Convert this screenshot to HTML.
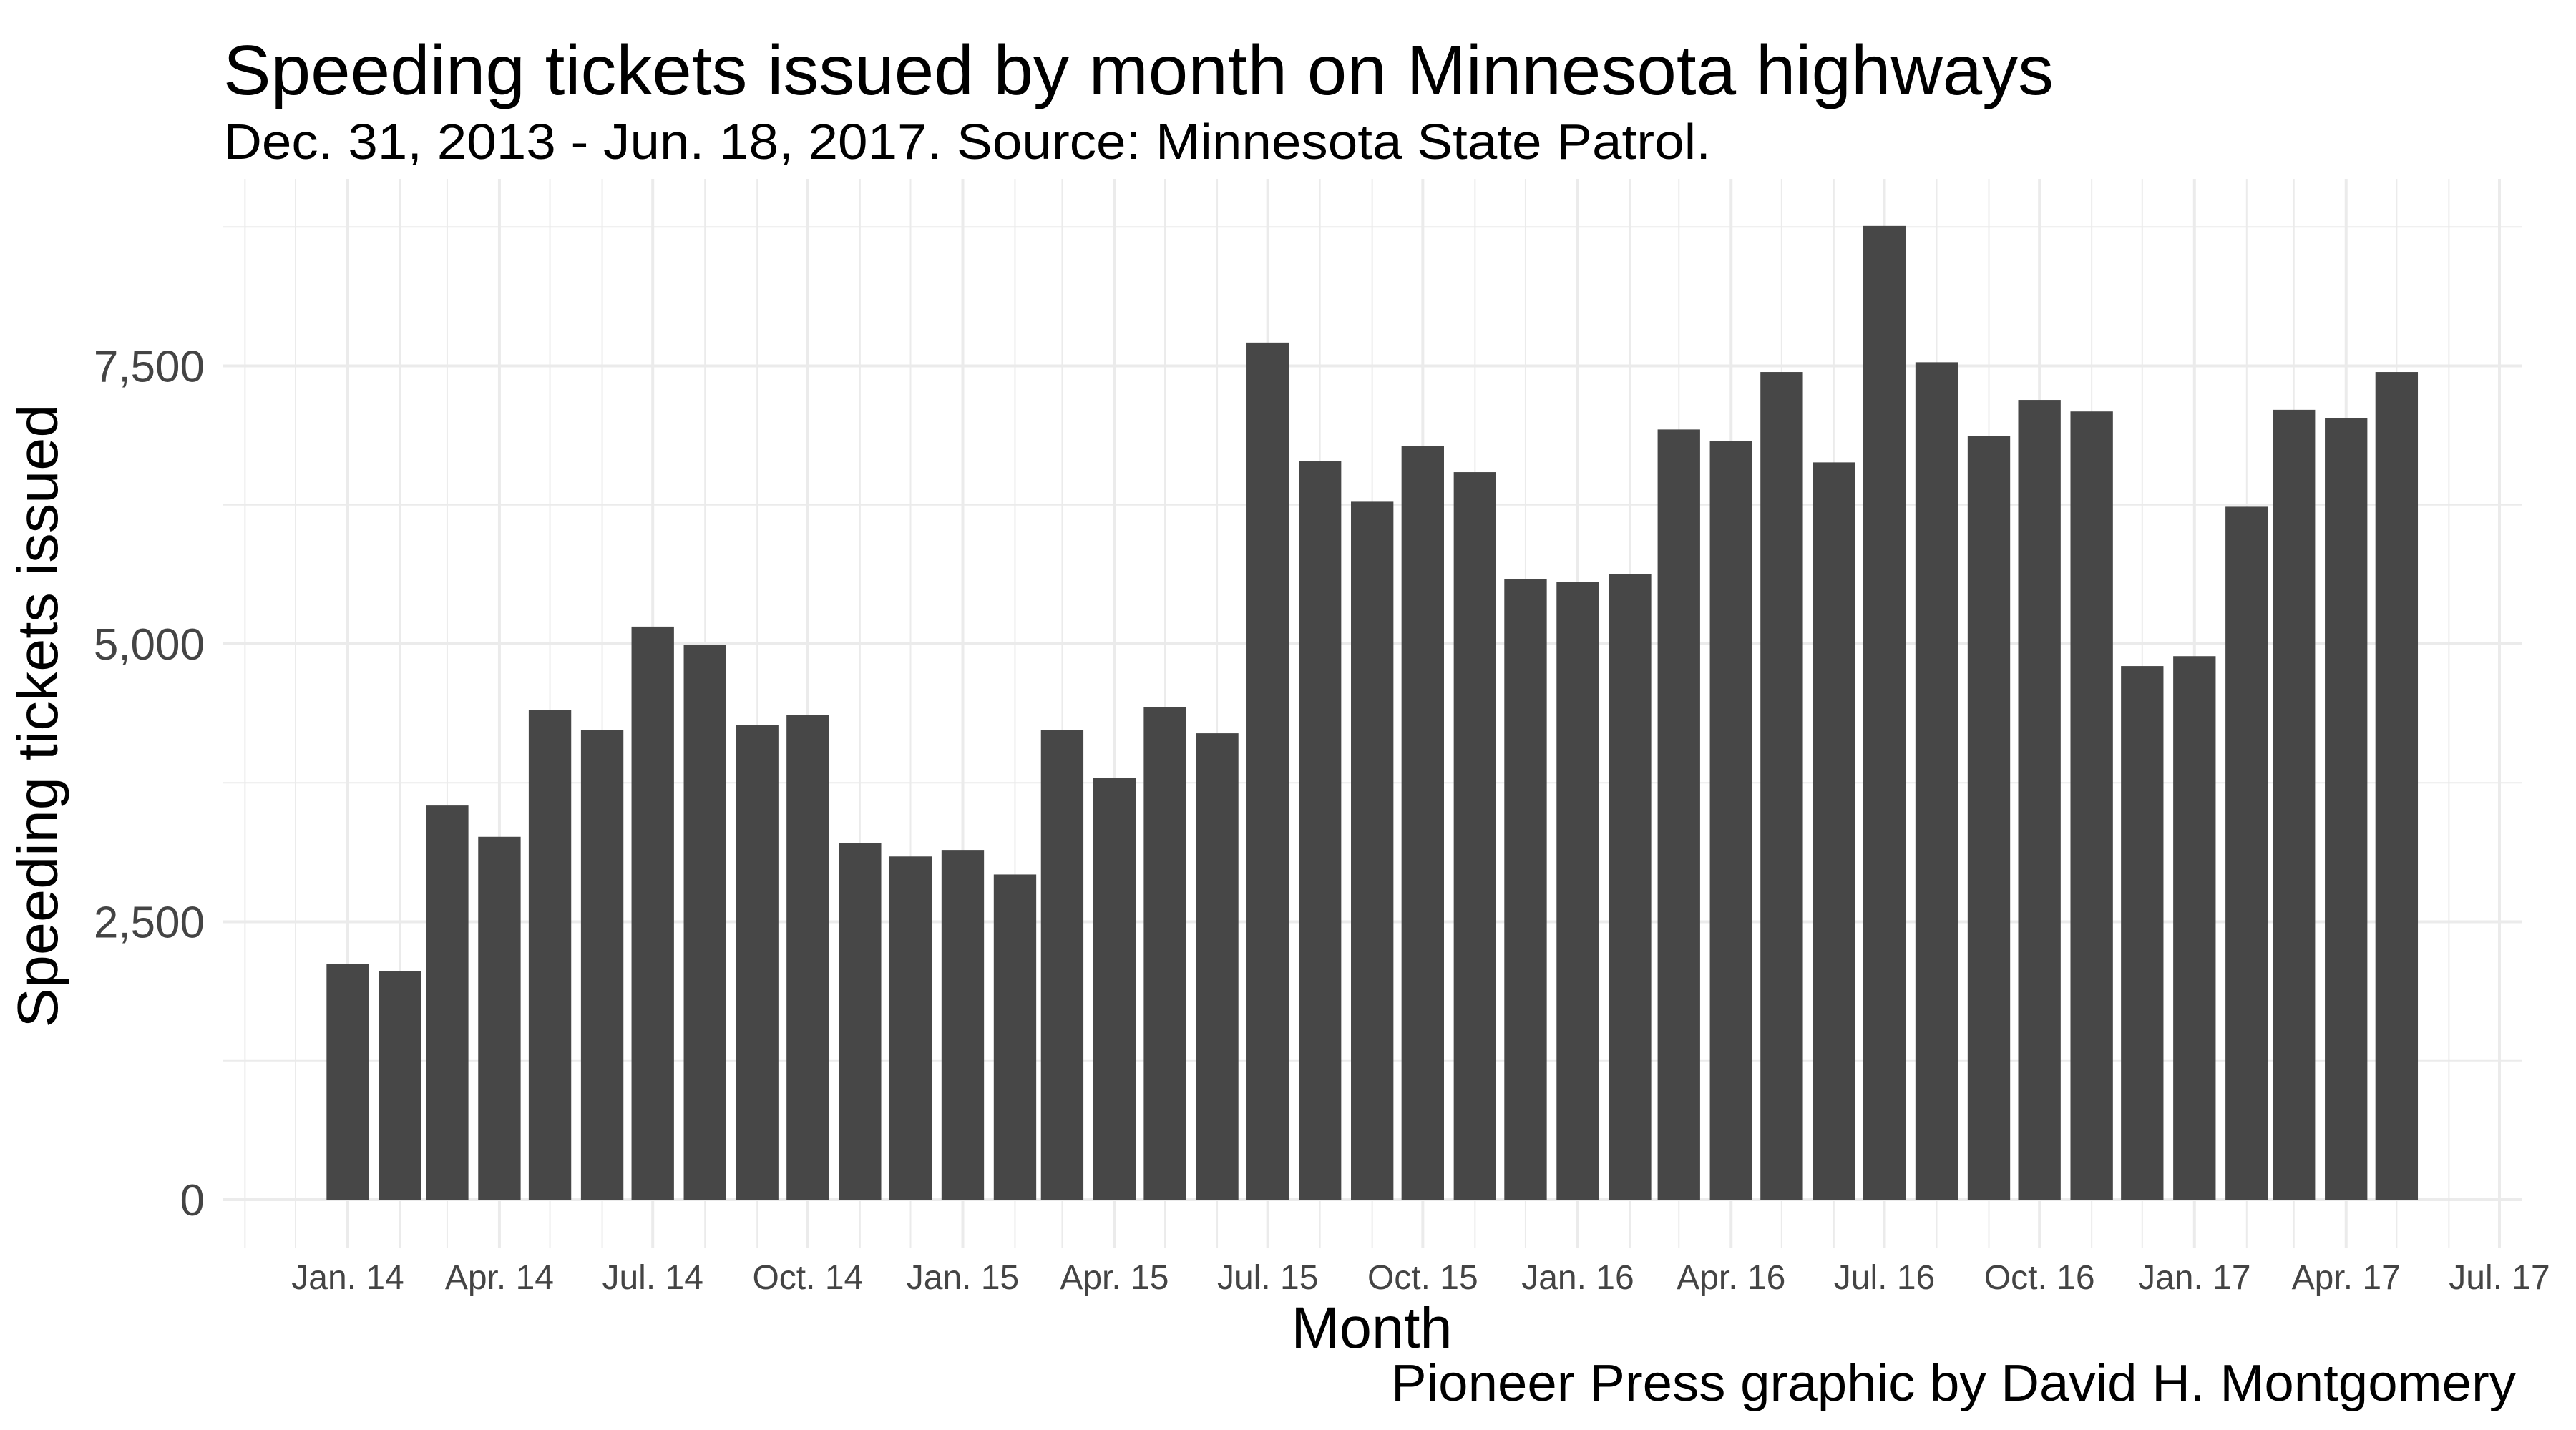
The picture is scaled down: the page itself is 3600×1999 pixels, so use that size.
<!DOCTYPE html>
<html><head><meta charset="utf-8"><style>
html,body{margin:0;padding:0;background:#fff}
svg{display:block;font-family:"Liberation Sans",Arial,sans-serif}
</style></head><body>
<svg id="chart" width="3600" height="1999" viewBox="0 0 3600 1999" xmlns="http://www.w3.org/2000/svg">
<rect width="3600" height="1999" fill="#fff"/>
<g id="grid"></g>
<g id="bars"></g>
<g id="yticks"></g>
<g id="xticks"></g>
<text x="312" y="132" font-size="98" fill="#000" textLength="2558" lengthAdjust="spacingAndGlyphs">Speeding tickets issued by month on Minnesota highways</text>
<text x="312" y="222" font-size="70" fill="#000" textLength="2079" lengthAdjust="spacingAndGlyphs">Dec. 31, 2013 - Jun. 18, 2017. Source: Minnesota State Patrol.</text>
<text x="1917" y="1884" font-size="82" fill="#000" text-anchor="middle" textLength="225" lengthAdjust="spacingAndGlyphs">Month</text>
<text transform="translate(80,1001) rotate(-90)" font-size="80" fill="#000" text-anchor="middle" textLength="871" lengthAdjust="spacingAndGlyphs">Speeding tickets issued</text>
<text x="3516" y="1958" font-size="72" fill="#000" text-anchor="end" textLength="1572" lengthAdjust="spacingAndGlyphs">Pioneer Press graphic by David H. Montgomery</text>
</svg>
<script>
const months = ["2014-01","2014-02","2014-03","2014-04","2014-05","2014-06","2014-07","2014-08","2014-09","2014-10","2014-11","2014-12",
"2015-01","2015-02","2015-03","2015-04","2015-05","2015-06","2015-07","2015-08","2015-09","2015-10","2015-11","2015-12",
"2016-01","2016-02","2016-03","2016-04","2016-05","2016-06","2016-07","2016-08","2016-09","2016-10","2016-11","2016-12",
"2017-01","2017-02","2017-03","2017-04","2017-05"];
const tickets = [2120,2053,3545,3264,4402,4225,5155,4993,4269,4357,3205,3087,
3146,2925,4225,3796,4431,4195,7710,6647,6278,6780,6544,5583,
5554,5628,6928,6824,7445,6632,8759,7533,6869,7194,7090,4800,
4889,6233,7105,7031,7445];
const yTicks = [0,2500,5000,7500];
const yTickLabels = ["0","2,500","5,000","7,500"];
const yMinor = [1250,3750,6250,8750];
const xTickLabels = ["Jan. 14","Apr. 14","Jul. 14","Oct. 14","Jan. 15","Apr. 15","Jul. 15","Oct. 15","Jan. 16","Apr. 16","Jul. 16","Oct. 16","Jan. 17","Apr. 17","Jul. 17"];
const xTickDates = ["2014-01","2014-04","2014-07","2014-10","2015-01","2015-04","2015-07","2015-10","2016-01","2016-04","2016-07","2016-10","2017-01","2017-04","2017-07"];

const NS="http://www.w3.org/2000/svg";
const PL=311, PR=3525, PT=250, PB=1744;
const d0=Date.UTC(2014,0,1), d1=Date.UTC(2017,6,1);
const X0=486, X1=3493;
function dateVal(s){const p=s.split("-");return Date.UTC(+p[0],+p[1]-1,1);}
function x(s){return X0+(dateVal(s)-d0)/(d1-d0)*(X1-X0);}
function xd(t){return X0+(t-d0)/(d1-d0)*(X1-X0);}
const Y0=1677, YPER=388.5/2500;
function y(v){return Y0-v*YPER;}
function mk(tag,attrs,parent){const e=document.createElementNS(NS,tag);for(const k in attrs)e.setAttribute(k,attrs[k]);parent.appendChild(e);return e;}

const grid=document.getElementById("grid");
yMinor.forEach(v=>{const l=mk("line",{x1:PL,x2:PR,y1:y(v),y2:y(v),stroke:"#ebebeb","stroke-width":2},grid);

});
yTicks.forEach(v=>{const l=mk("line",{x1:PL,x2:PR,y1:y(v),y2:y(v),stroke:"#ebebeb","stroke-width":4},grid);

});
for(let yr=2013;yr<=2017;yr++)for(let m=0;m<12;m++){
  const t=Date.UTC(yr,m,1);const px=xd(t);
  if(px<PL||px>PR)continue;
  const major=(m%3===0);
  const l=mk("line",{x1:px,x2:px,y1:PT,y2:PB,stroke:"#ebebeb","stroke-width":major?4:2},grid);
  
  
}
const bars=document.getElementById("bars");
const bw=25.2*86400000/(d1-d0)*(X1-X0);
months.forEach((mo,i)=>{
  const cx=x(mo), v=tickets[i];
  const r=mk("rect",{x:cx-bw/2,y:y(v),width:bw,height:Y0-y(v),fill:"#474747"},bars);
  
  
});
const yt=document.getElementById("yticks");
yTicks.forEach((v,i)=>{
  const t=mk("text",{x:286,y:y(v)+22,"font-size":62,fill:"#444","text-anchor":"end"},yt);
  t.textContent=yTickLabels[i];
  
  
});
const xt=document.getElementById("xticks");
xTickDates.forEach((d,i)=>{
  const t=mk("text",{x:x(d),y:1802,"font-size":48,fill:"#444","text-anchor":"middle"},xt);
  t.textContent=xTickLabels[i];
  
  
});
</script>
</body></html>
